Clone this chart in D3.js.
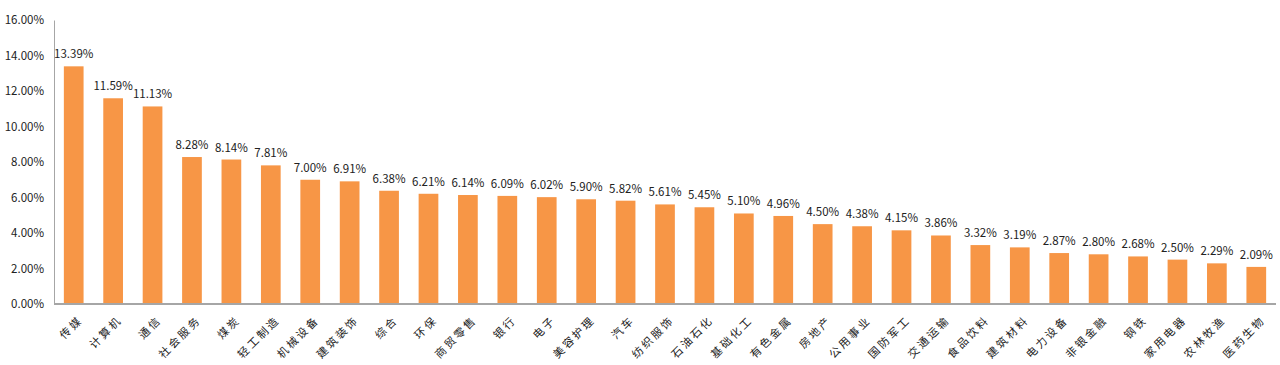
<!DOCTYPE html>
<html>
<head>
<meta charset="utf-8">
<script src="https://cdn.jsdelivr.net/npm/d3@7"></script>
<style>
  body { margin: 0; background: #fff; }
  svg text { font-family: "Noto Sans CJK SC", "Liberation Sans", sans-serif; fill: #222; }
</style>
</head>
<body>
<div id="chart"></div>
<script>
// --- Data ---
const industries = ["传媒", "计算机", "通信", "社会服务", "煤炭", "轻工制造", "机械设备", "建筑装饰", "综合", "环保",
    "商贸零售", "银行", "电子", "美容护理", "汽车", "纺织服饰", "石油石化", "基础化工", "有色金属", "房地产",
    "公用事业", "国防军工", "交通运输", "食品饮料", "建筑材料", "电力设备", "非银金融", "钢铁", "家用电器", "农林牧渔", "医药生物"];
const returns = [13.39, 11.59, 11.13, 8.28, 8.14, 7.81, 7.00, 6.91, 6.38, 6.21,
    6.14, 6.09, 6.02, 5.90, 5.82, 5.61, 5.45, 5.10, 4.96, 4.50,
    4.38, 4.15, 3.86, 3.32, 3.19, 2.87, 2.80, 2.68, 2.50, 2.29, 2.09];
const yTicks = [0, 2, 4, 6, 8, 10, 12, 14, 16];

const W = 1280, H = 365;
const margin = { top: 20, right: 4, bottom: 61, left: 54 };

const svg = d3.select("#chart").append("svg")
    .attr("width", W)
    .attr("height", H);

const x = d3.scaleBand()
    .domain(industries)
    .range([margin.left, W - margin.right])
    .paddingInner(0.5)
    .paddingOuter(0.25);

const y = d3.scaleLinear()
    .domain([0, 16])
    .range([H - margin.bottom, margin.top]);

// y axis
const yAxis = svg.append("g")
    .attr("transform", `translate(${margin.left},0)`)
    .call(d3.axisLeft(y).tickValues(yTicks).tickSize(0).tickPadding(10)
        .tickFormat(d => d.toFixed(2) + "%"));
yAxis.select(".domain").attr("stroke", "#a6a6a6").attr("stroke-width", 1);
yAxis.selectAll("text").style("font-size", "11.5px").attr("fill", "#222");

// bars
svg.append("g")
    .selectAll("rect")
    .data(returns)
    .join("rect")
        .attr("x", (d, i) => x(industries[i]))
        .attr("y", d => y(d))
        .attr("width", x.bandwidth())
        .attr("height", d => y(0) - y(d))
        .attr("fill", "#f79646");

// value labels
svg.append("g")
    .selectAll("text")
    .data(returns)
    .join("text")
        .attr("x", (d, i) => x(industries[i]) + x.bandwidth() / 2)
        .attr("y", d => y(d) - 8)
        .attr("text-anchor", "middle")
        .style("font-size", "11.5px")
        .text(d => d.toFixed(2) + "%");

// x axis
const xAxis = svg.append("g")
    .attr("transform", `translate(0,${y(0)})`)
    .call(d3.axisBottom(x).tickSize(0).tickSizeOuter(0));
xAxis.select(".domain").attr("stroke", "#a6a6a6").attr("stroke-width", 2)
    .attr("d", `M${margin.left},0H${W - margin.right}`);
xAxis.selectAll("text")
    .attr("text-anchor", "end")
    .attr("y", 0)
    .attr("dy", "0.35em")
    .attr("transform", "translate(7,14) rotate(-45)")
    .style("font-size", "11px")
    .style("letter-spacing", "2.5px")
    .attr("fill", "#333");
</script>
</body>
</html>
